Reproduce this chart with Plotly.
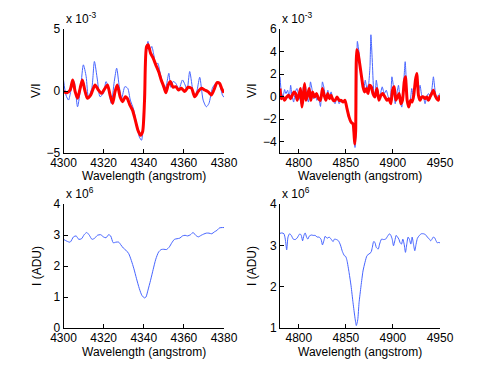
import plotly.graph_objects as go

# H-gamma region (4300-4380 A), V/I in units of 1e-3
hg_wl_blue = [4300.0, 4301.2, 4302.5, 4303.8, 4305.3, 4307.0, 4308.6, 4309.9, 4311.3, 4312.4,
              4314.1, 4315.4, 4316.9, 4318.2, 4319.9, 4321.2, 4322.4, 4323.8, 4325.3, 4326.5,
              4327.8, 4329.0, 4330.6, 4332.0, 4333.3, 4334.8, 4336.4, 4337.8, 4338.9, 4340.1,
              4341.1, 4342.1, 4343.1, 4344.0, 4345.0, 4346.0, 4347.0, 4348.0, 4349.0, 4350.2,
              4351.3, 4352.5, 4353.5, 4354.6, 4356.0, 4357.5, 4359.3, 4360.6, 4361.6, 4362.9,
              4364.3, 4365.4, 4366.6, 4367.9, 4369.6, 4371.2, 4372.5, 4374.2, 4375.8, 4377.0,
              4378.2, 4379.2, 4380.0]
hg_vi_blue = [0.89, -0.32, -0.73, 0.08, 0.76, -1.27, 0.35, 2.11, 1.16, -0.46,
              0.22, 2.38, 0.89, -0.46, -0.19, 0.76, 0.22, -1.0, 0.76, 1.84,
              0.35, -0.59, 0.35, 0.22, -0.73, -1.41, -2.62, -3.70, -3.97, -0.73,
              2.51, 4.0, 3.32, 3.59, 2.92, 2.11, 2.24, 1.57, 0.89, 0.08,
              0.49, 1.43, 0.30, 0.76, 0.62, 0.14, 0.89, 0.49, 0.08, 1.57,
              0.22, -0.46, 0.08, 1.11, -0.73, -1.27, -1.0, 0.22, 0.62, 0.76,
              0.30, -0.32, -0.51]

hg_wl_red = [4300.0, 4301.7, 4303.3, 4304.6, 4305.8, 4307.0, 4308.3, 4309.4, 4310.6, 4311.9,
             4313.6, 4315.7, 4317.4, 4319.0, 4320.7, 4321.9, 4323.2, 4324.5, 4325.7, 4326.8,
             4328.2, 4329.5, 4330.8, 4331.8, 4333.1, 4334.4, 4335.8, 4337.1, 4338.4, 4339.4,
             4340.4, 4341.4, 4342.2, 4343.4, 4344.7, 4346.0, 4347.4, 4348.7, 4350.0, 4351.0,
             4352.2, 4353.3, 4354.6, 4356.0, 4357.3, 4358.8, 4360.4, 4362.1, 4363.8, 4365.4,
             4367.1, 4368.7, 4370.4, 4372.0, 4373.7, 4375.3, 4376.5, 4377.8, 4378.8, 4380.0]
hg_vi_red = [-0.05, -0.14, 0.08, 0.89, -0.05, -0.59, 0.22, 0.89, 0.08, -0.59,
             -0.32, 0.49, 0.08, -0.19, 0.22, 0.49, -0.32, -1.0, -0.05, 0.49,
             -0.46, -0.86, -0.46, -0.59, -1.14, -1.54, -2.35, -3.16, -3.57, -3.30,
             -0.73, 3.59, 3.73, 3.05, 2.65, 2.11, 1.57, 0.89, 0.35, -0.14,
             0.49, 0.76, 0.30, 0.35, 0.08, 0.22, -0.05, 0.30, 0.22, -0.46,
             -0.05, 0.22, 0.08, -0.05, -0.32, 0.22, 0.68, 0.62, 0.22, -0.14]

# H-beta region (4780-4950 A), V/I in units of 1e-3
hb_wl_blue = [4780.0, 4781.4, 4783.2, 4784.9, 4786.3, 4788.1, 4789.9, 4791.3, 4792.7, 4794.5,
              4796.2, 4798.0, 4799.8, 4801.5, 4803.3, 4805.0, 4806.8, 4808.6, 4810.3, 4812.4,
              4813.9, 4815.6, 4817.4, 4819.2, 4820.9, 4823.0, 4825.1, 4826.9, 4828.7, 4830.8,
              4832.5, 4834.3, 4836.4, 4838.5, 4840.7, 4842.8, 4844.9, 4847.0, 4849.1, 4850.9,
              4852.7, 4854.8, 4856.9, 4858.7, 4859.7, 4861.1, 4862.2, 4863.6, 4865.4, 4867.1,
              4868.9, 4870.6, 4872.4, 4874.2, 4875.6, 4876.6, 4878.0, 4879.5, 4880.9, 4882.3,
              4883.7, 4885.5, 4887.2, 4888.6, 4890.8, 4892.9, 4895.0, 4897.1, 4898.9, 4900.6,
              4902.4, 4904.2, 4905.9, 4907.7, 4909.4, 4911.2, 4913.0, 4914.7, 4916.5, 4918.3,
              4920.0, 4921.8, 4923.6, 4925.3, 4927.1, 4928.8, 4930.6, 4932.4, 4934.1, 4935.9,
              4937.7, 4939.4, 4941.2, 4943.0, 4944.7, 4946.5, 4948.2, 4950.0]
hb_vi_blue = [1.76, 0.42, -0.03, 0.63, 0.27, 0.57, -0.18, 1.01, 0.12, -0.48,
              0.42, 0.72, 0.12, -0.33, -0.78, 0.93, 1.01, -0.03, -0.48, 1.31,
              0.72, -0.18, 0.27, -0.33, -0.03, -0.87, 1.31, 0.72, -0.33, 0.57,
              -0.03, 0.42, -0.33, -0.63, -0.03, -0.63, -0.33, -0.48, -0.33, -0.93,
              -1.82, -2.12, -2.27, -3.91, -4.51, -2.72, 4.90, 4.15, 2.66, 1.46,
              0.57, 1.46, 0.72, 1.16, 2.66, 5.49, 3.25, 0.57, -0.03, 1.46,
              0.72, -0.33, 0.42, 0.87, 0.27, 0.57, -0.03, -0.33, 1.76, 0.87,
              -0.63, 0.27, 1.01, -0.33, -0.93, 0.87, 3.10, 0.57, -0.93, -0.48,
              0.72, -0.33, 1.46, 1.91, 0.42, 1.01, 0.12, -0.03, -0.63, -0.03,
              0.27, 0.12, 0.57, 1.76, 0.57, -0.18, 0.12, 0.27]

hb_wl_red = [4780.0, 4781.4, 4783.2, 4784.9, 4787.1, 4789.2, 4791.3, 4793.0, 4794.8, 4796.6,
             4798.3, 4800.5, 4801.9, 4803.3, 4804.7, 4806.1, 4807.5, 4809.3, 4811.0, 4812.8,
             4814.6, 4816.7, 4818.8, 4820.9, 4823.0, 4825.1, 4826.9, 4828.7, 4830.8, 4832.6,
             4834.3, 4836.4, 4838.5, 4840.7, 4842.8, 4844.9, 4847.0, 4849.1, 4851.2, 4853.4,
             4855.5, 4857.6, 4859.4, 4860.4, 4861.5, 4862.9, 4864.6, 4866.4, 4868.2, 4869.9,
             4871.7, 4873.5, 4875.2, 4877.0, 4878.8, 4880.9, 4883.0, 4885.1, 4887.2, 4889.3,
             4891.5, 4893.6, 4895.7, 4897.8, 4899.6, 4901.3, 4903.1, 4904.9, 4906.6, 4908.4,
             4910.1, 4912.0, 4913.3, 4915.1, 4916.8, 4918.6, 4920.4, 4922.1, 4923.9, 4925.3,
             4927.1, 4928.8, 4930.6, 4932.4, 4934.1, 4935.9, 4937.7, 4939.4, 4941.2, 4942.9,
             4944.7, 4946.5, 4948.2, 4950.0]
hb_vi_red = [0.72, -0.18, -0.03, -0.33, -0.03, 0.12, -0.18, 0.12, 0.42, 0.27,
             -0.33, 0.27, 0.72, -0.93, -0.03, 1.16, -0.33, 0.12, 0.72, -0.33,
             0.42, -0.03, 0.27, -0.18, -0.33, 0.72, 0.12, -0.33, 0.27, -0.18,
             0.12, -0.33, -0.33, -0.03, -0.33, -0.33, -0.48, -0.33, -1.07, -1.82,
             -2.27, -2.42, -4.21, -3.01, 4.15, 3.85, 2.96, 1.91, 0.87, 0.42,
             0.72, 0.27, 1.01, 0.87, 0.27, -0.03, 0.72, -0.33, 0.12, 0.27,
             -0.03, -0.33, -0.18, -0.63, 0.57, 0.87, -0.33, -0.03, 0.27, -0.63,
             -0.33, 1.31, 1.76, -0.33, -0.93, -0.33, -0.48, 0.12, 1.46, 2.06,
             0.12, -0.33, -0.03, -0.03, -0.18, -0.03, -0.33, -0.03, 0.27, 0.57,
             0.12, -0.18, -0.33, 0.12]

# intensity, units of 1e6 ADU
hg_wl_int = [4300.0, 4301.7, 4303.3, 4305.0, 4306.3, 4307.6, 4309.0, 4310.3, 4311.6, 4312.9,
             4314.2, 4315.6, 4316.9, 4318.5, 4319.9, 4321.2, 4322.5, 4323.5, 4324.8, 4326.2,
             4327.5, 4328.5, 4329.8, 4331.1, 4332.5, 4333.8, 4335.1, 4336.4, 4337.8, 4339.1,
             4340.4, 4341.1, 4342.1, 4343.4, 4344.7, 4346.0, 4347.4, 4348.7, 4350.0, 4351.3,
             4352.7, 4354.0, 4355.3, 4356.6, 4358.0, 4359.3, 4360.6, 4361.9, 4363.3, 4364.6,
             4365.9, 4367.2, 4368.6, 4369.9, 4371.2, 4372.5, 4373.9, 4375.2, 4376.5, 4377.8,
             4379.1, 4380.0]
hg_int = [2.86, 2.80, 2.77, 2.94, 2.97, 2.86, 2.88, 3.01, 3.08, 2.99,
          2.86, 2.90, 2.99, 3.01, 2.94, 2.91, 3.01, 2.97, 2.75, 2.77,
          2.77, 2.69, 2.58, 2.51, 2.40, 2.18, 1.91, 1.59, 1.27, 1.05,
          0.97, 1.00, 1.22, 1.54, 1.89, 2.22, 2.45, 2.53, 2.54, 2.53,
          2.61, 2.75, 2.86, 2.88, 2.90, 2.97, 2.99, 2.97, 3.01, 3.08,
          2.99, 2.94, 2.99, 3.03, 3.06, 3.06, 3.04, 3.10, 3.15, 3.23,
          3.24, 3.24]

hb_wl_int = [4780.0, 4782.1, 4784.2, 4785.6, 4787.1, 4788.5, 4790.2, 4792.0, 4794.1, 4796.2,
             4798.3, 4799.8, 4801.2, 4802.6, 4804.0, 4805.4, 4806.8, 4808.2, 4809.6, 4811.0,
             4813.2, 4815.3, 4817.4, 4819.5, 4821.6, 4823.7, 4825.1, 4826.6, 4828.0, 4830.1,
             4832.2, 4834.3, 4836.4, 4837.8, 4840.0, 4842.1, 4844.2, 4846.3, 4848.4, 4849.8,
             4851.2, 4853.4, 4855.5, 4857.6, 4859.7, 4861.1, 4862.6, 4864.0, 4866.1, 4868.2,
             4870.3, 4872.4, 4874.5, 4876.7, 4878.1, 4879.5, 4880.9, 4882.3, 4884.4, 4885.8,
             4887.9, 4890.0, 4892.2, 4894.3, 4896.4, 4897.8, 4899.2, 4900.6, 4902.0, 4903.4,
             4904.9, 4906.3, 4907.7, 4909.1, 4910.5, 4911.9, 4913.3, 4914.7, 4916.1, 4917.6,
             4919.0, 4920.4, 4921.8, 4923.2, 4924.6, 4926.0, 4928.1, 4930.2, 4932.4, 4934.5,
             4936.6, 4938.7, 4940.1, 4941.5, 4942.9, 4944.4, 4945.8, 4947.2, 4948.6, 4950.0]
hb_int = [3.29, 3.30, 3.28, 3.15, 2.89, 3.20, 3.28, 3.24, 3.15, 3.14,
          3.18, 3.24, 3.28, 3.24, 3.11, 3.24, 3.30, 3.20, 3.15, 3.22,
          3.25, 3.24, 3.24, 3.20, 3.20, 3.14, 3.01, 3.11, 3.22, 3.17,
          3.20, 3.15, 3.09, 3.15, 3.14, 3.11, 3.01, 2.85, 2.75, 2.73,
          2.63, 2.34, 2.02, 1.61, 1.24, 1.06, 1.20, 1.61, 2.02, 2.38,
          2.59, 2.75, 2.79, 2.83, 2.95, 3.09, 3.07, 2.95, 2.91, 3.03,
          3.15, 3.14, 3.15, 3.22, 3.28, 3.24, 3.15, 2.99, 3.11, 3.24,
          3.20, 3.15, 3.06, 3.03, 3.15, 3.03, 2.83, 3.03, 3.20, 3.14,
          3.03, 3.20, 3.03, 2.87, 3.03, 3.17, 3.24, 3.28, 3.28, 3.26,
          3.20, 3.15, 3.11, 3.15, 3.20, 3.18, 3.11, 3.06, 3.07, 3.06]

BLUE = 'rgb(70,100,255)'
RED = 'rgb(255,0,0)'
FONT = 'Liberation Sans, Arial, sans-serif'

fig = go.Figure()
fig.add_trace(go.Scatter(x=hg_wl_blue, y=hg_vi_blue, mode='lines', xaxis='x', yaxis='y',
                         line=dict(color=BLUE, width=1, shape='spline', smoothing=0.7)))
fig.add_trace(go.Scatter(x=hg_wl_red, y=hg_vi_red, mode='lines', xaxis='x', yaxis='y',
                         line=dict(color=RED, width=3, shape='spline', smoothing=0.7)))
fig.add_trace(go.Scatter(x=hb_wl_blue, y=hb_vi_blue, mode='lines', xaxis='x2', yaxis='y2',
                         line=dict(color=BLUE, width=1, shape='spline', smoothing=0.5)))
fig.add_trace(go.Scatter(x=hb_wl_red, y=hb_vi_red, mode='lines', xaxis='x2', yaxis='y2',
                         line=dict(color=RED, width=3, shape='spline', smoothing=0.5)))
fig.add_trace(go.Scatter(x=hg_wl_int, y=hg_int, mode='lines', xaxis='x3', yaxis='y3',
                         line=dict(color=BLUE, width=1, shape='spline', smoothing=0.7)))
fig.add_trace(go.Scatter(x=hb_wl_int, y=hb_int, mode='lines', xaxis='x4', yaxis='y4',
                         line=dict(color=BLUE, width=1, shape='spline', smoothing=0.6)))

# the page body adds an 8px offset, so lay out in page pixels minus 8
OFF = 8
W, H = 491 - OFF, 369 - OFF


def hdom(a, b):
    return [(a - OFF) / W, (b - OFF) / W]


def vdom(top, bottom):
    return [1 - (bottom - OFF) / H, 1 - (top - OFF) / H]


left_dom = hdom(63.5, 224)
right_dom = hdom(280, 440)
top_dom = vdom(29, 153)
bot_dom = vdom(204, 328)

ax = dict(showline=True, linecolor='black', linewidth=1, ticks='inside', ticklen=4,
          tickcolor='black', showgrid=False, zeroline=False, mirror=False, automargin=False,
          tickfont=dict(size=12, color='black'))
xax = dict(ax, ticklabelstandoff=-1)

fig.update_layout(
    width=W, height=H, margin=dict(l=0, r=0, t=0, b=0),
    paper_bgcolor='white', plot_bgcolor='white', showlegend=False,
    font=dict(family=FONT, size=12, color='black'),
    xaxis=dict(xax, domain=left_dom, anchor='y', range=[4300, 4380],
               tickvals=[4300, 4320, 4340, 4360, 4380]),
    yaxis=dict(ax, domain=top_dom, anchor='x', range=[-5, 5], tickvals=[-5, 0, 5]),
    xaxis2=dict(xax, domain=right_dom, anchor='y2', range=[4780, 4950],
                tickvals=[4800, 4850, 4900, 4950]),
    yaxis2=dict(ax, domain=top_dom, anchor='x2', range=[-5, 6], tickvals=[-4, -2, 0, 2, 4, 6]),
    xaxis3=dict(xax, domain=left_dom, anchor='y3', range=[4300, 4380],
                tickvals=[4300, 4320, 4340, 4360, 4380]),
    yaxis3=dict(ax, domain=bot_dom, anchor='x3', range=[0, 4], tickvals=[0, 1, 2, 3, 4]),
    xaxis4=dict(xax, domain=right_dom, anchor='y4', range=[4780, 4950],
                tickvals=[4800, 4850, 4900, 4950]),
    yaxis4=dict(ax, domain=bot_dom, anchor='x4', range=[1, 4], tickvals=[1, 2, 3, 4]),
)

# axis titles and exponent labels drawn as annotations at fixed pixel spots
panels = [(left_dom, top_dom, 'V/I', 'x 10<sup>-3</sup>', 36),
          (right_dom, top_dom, 'V/I', 'x 10<sup>-3</sup>', 252),
          (left_dom, bot_dom, 'I (ADU)', 'x 10<sup>6</sup>', 37),
          (right_dom, bot_dom, 'I (ADU)', 'x 10<sup>6</sup>', 252)]
for xd, yd, ytitle, expo, ytx in panels:
    fig.add_annotation(x=xd[0], y=yd[1], xref='paper', yref='paper', text=expo,
                       showarrow=False, xanchor='left', yanchor='bottom', yshift=1,
                       font=dict(size=12, color='black'))
    fig.add_annotation(x=(xd[0] + xd[1]) / 2, y=yd[0], xref='paper', yref='paper',
                       text='Wavelength (angstrom)', showarrow=False,
                       xanchor='center', yanchor='middle', yshift=-23.5,
                       font=dict(size=12, color='black'))
    fig.add_annotation(x=(ytx - OFF) / W, y=(yd[0] + yd[1]) / 2, xref='paper', yref='paper',
                       text=ytitle, showarrow=False, textangle=-90,
                       xanchor='center', yanchor='middle',
                       font=dict(size=12, color='black'))

fig.write_html("out.html")
